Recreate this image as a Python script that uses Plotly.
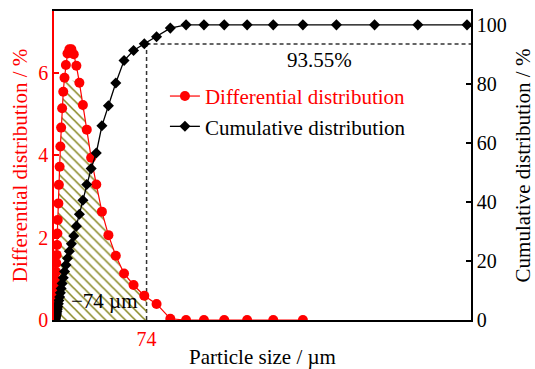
import numpy as np
import plotly.graph_objects as go

# ---- data ----
sizes = [0.45, 0.51, 0.58, 0.66, 0.75, 0.85, 0.97, 1.1, 1.25, 1.4, 1.6, 1.8, 2.1, 2.4, 2.7,
         3.0, 3.5, 3.9, 4.5, 5.1, 5.7, 6.5, 7.4, 8.4, 9.5, 10.8, 12.3, 13.9, 15.8, 17.9,
         20.3, 23.1, 26.2, 29.7, 33.8, 38.3, 43.5, 49.4, 56.0, 63.6, 72.2, 82.0, 93.0,
         105.6, 119.9, 136.1, 154.4, 175.3, 199.0, 225.8, 256.3, 290.9, 330.2]

differential = [0.06, 0.10, 0.15, 0.22, 0.30, 0.40, 0.52, 0.65, 0.80, 0.97, 1.17, 1.38, 1.58,
                1.82, 2.10, 2.43, 2.83, 3.28, 3.72, 4.21, 4.67, 5.14, 5.54, 5.88, 6.19, 6.47,
                6.57, 6.57, 6.45, 6.17, 5.76, 5.22, 4.62, 3.94, 3.29, 2.63, 2.06, 1.56, 1.13,
                0.85, 0.59, 0.39, 0.03, 0.0, 0.0, 0.0, 0.0, 0.0, 0.0]

cumulative = [0.02, 0.05, 0.10, 0.17, 0.26, 0.38, 0.53, 0.72, 0.95, 1.2, 1.5, 1.9, 2.4, 3.0,
              3.7, 4.5, 5.5, 6.6, 7.8, 9.2, 10.7, 12.4, 14.3, 16.4, 18.6, 20.9, 23.3, 25.8,
              28.5, 31.8, 35.8, 40.6, 45.9, 51.3, 56.6, 65.8, 72.6, 80.3, 87.9, 91.3, 93.6,
              96.0, 98.9, 100, 100, 100, 100, 100, 100, 100, 100, 100, 100]

cut_size = 74          # µm
cut_cumulative = 93.55 # %
hatch_cap = 5.9        # hatch region top (differential %)

x_tickvals = [74]
y1_tickvals = [0, 2, 4, 6]
y2_tickvals = [0, 20, 40, 60, 80, 100]

XMAX = 333.4
Y1MAX = 7.5
Y2MAX = 104.7

FONT = "Liberation Serif, Times New Roman, serif"
RED = "#ff0000"

# hatch polygon derived from the differential curve (x <= 74 µm)
dsz = np.array(sizes[:len(differential)])
dval = np.array(differential)
mask = (dsz <= cut_size) & (dval <= hatch_cap)
y_cut = float(np.interp(cut_size, dsz, dval))
hx = [dsz[mask][0]] + list(dsz[mask]) + [cut_size, cut_size, dsz[mask][0]]
hy = [0] + list(dval[mask]) + [y_cut, 0, 0]

fig = go.Figure()

fig.add_trace(go.Scatter(
    x=hx, y=hy, mode="lines", fill="toself",
    line=dict(width=0, color="rgba(0,0,0,0)"),
    fillcolor="rgba(0,0,0,0)",
    fillpattern=dict(shape="\\", fgcolor="#858520", bgcolor="rgba(0,0,0,0)",
                     size=7, solidity=0.22, fillmode="replace"),
    showlegend=False, hoverinfo="skip"))

fig.add_trace(go.Scatter(
    x=sizes[:len(differential)], y=differential, mode="lines+markers",
    name="<span style='color:#ff0000'>Differential distribution</span>",
    line=dict(color=RED, width=1.2),
    marker=dict(symbol="circle", size=10, color=RED)))

fig.add_trace(go.Scatter(
    x=sizes, y=cumulative, mode="lines+markers", yaxis="y2",
    name="Cumulative distribution",
    line=dict(color="black", width=1.3),
    marker=dict(symbol="diamond", size=8.5, color="black")))

dash_style = dict(color="#333333", width=1.5, dash="4px,3px")
fig.add_shape(type="line", xref="x", yref="y2", x0=cut_size, x1=cut_size,
              y0=0, y1=cut_cumulative, line=dash_style, layer="below")
fig.add_shape(type="line", xref="x", yref="y2", x0=cut_size, x1=XMAX,
              y0=cut_cumulative, y1=cut_cumulative, line=dash_style, layer="below")

fig.add_annotation(x=212, y=88.2, xref="x", yref="y2", text="93.55%",
                   showarrow=False, font=dict(size=21, color="black", family=FONT))
fig.add_annotation(x=40.6, y=0.46, xref="x", yref="y", text="\u221274 \u00b5m",
                   showarrow=False, font=dict(size=21, color="black", family=FONT))

fig.update_layout(
    template="none",
    width=535, height=369,
    margin=dict(l=54, r=64, t=11, b=49, autoexpand=False),
    paper_bgcolor="white", plot_bgcolor="white",
    font=dict(family=FONT, size=21, color="black"),
    showlegend=True,
    legend=dict(x=0.266, y=0.79, xanchor="left", yanchor="top",
                bgcolor="rgba(0,0,0,0)", borderwidth=0, itemwidth=30,
                font=dict(size=21, family=FONT), tracegroupgap=0),
    xaxis=dict(range=[0, XMAX], tickvals=x_tickvals, ticktext=[str(v) for v in x_tickvals],
               ticks="", showline=True, linecolor="black", linewidth=1.5, mirror=True,
               showgrid=False, zeroline=False,
               tickfont=dict(color=RED, size=20, family=FONT),
               title=dict(text="Particle size / \u00b5m", font=dict(size=21, family=FONT),
                          standoff=8)),
    yaxis=dict(range=[0, Y1MAX], tickvals=y1_tickvals, ticks="inside", ticklen=5,
               tickwidth=1.5, tickcolor=RED, showline=True, linecolor=RED, linewidth=1.5,
               showgrid=False, zeroline=False,
               tickfont=dict(color=RED, size=20, family=FONT),
               title=dict(text="Differential distribution / %",
                          font=dict(size=21, color=RED, family=FONT), standoff=5)),
    yaxis2=dict(range=[0, Y2MAX], tickvals=y2_tickvals, ticks="inside", ticklen=5,
                tickwidth=1.5, tickcolor="black", showline=True, linecolor="black",
                linewidth=1.5, overlaying="y", side="right",
                showgrid=False, zeroline=False,
                tickfont=dict(color="black", size=20, family=FONT),
                title=dict(text="Cumulative distribution / %",
                           font=dict(size=21, color="black", family=FONT), standoff=14)),
)

fig.write_html("out.html", config={"displayModeBar": False},
               post_script="document.body.style.margin='0';document.body.style.padding='0';")
